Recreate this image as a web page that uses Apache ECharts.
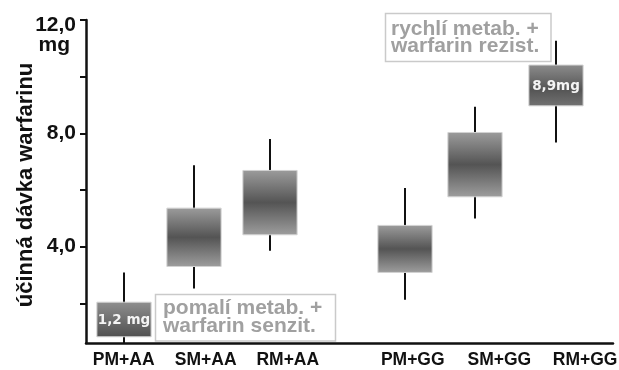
<!DOCTYPE html>
<html>
<head>
<meta charset="utf-8">
<script src="https://cdn.jsdelivr.net/npm/echarts@6/dist/echarts.min.js"></script>
<style>
html,body{margin:0;padding:0;background:#fff;}
#chart{width:619px;height:370px;}
</style>
</head>
<body>
<div id="chart"></div>
<script>
// ---- data ----
const categories = ['PM+AA', 'SM+AA', 'RM+AA', 'PM+GG', 'SM+GG', 'RM+GG'];
const whiskerLow  = [0.6, 2.52, 3.86, 2.13, 4.99, 7.68];
const boxLow      = [0.82, 3.30, 4.42, 3.09, 5.76, 8.97];
const boxHigh     = [2.04, 5.36, 6.69, 4.75, 8.03, 10.41];
const whiskerHigh = [3.09, 6.87, 7.80, 6.07, 8.94, 11.27];
const boxLabels   = ['1,2 mg', '', '', '', '', '8,9mg'];
const yTickValues  = [2, 4, 6, 8, 10, 12];
const yLabelValues = [4, 8, 12];
const yUnit = 'mg';
const yAxisName = 'účinná dávka warfarinu';
const noteSlow = 'pomalí metab. +\nwarfarin senzit.';
const noteFast = 'rychlí metab. +\nwarfarin rezist.';

// ---- layout (positions on the x value axis, 0..7) ----
const boxX   = [0.50, 1.43, 2.44, 4.24, 5.17, 6.24];
const labelX = [0.50, 1.59, 2.68, 4.34, 5.49, 6.63];
const BOX_W = 0.72;

const gradDefault = [{offset:0,color:'#9c9c9c'},{offset:0.5,color:'#545454'},{offset:1,color:'#9e9e9e'}];
const gradFirst   = [{offset:0,color:'#8f8f8f'},{offset:1,color:'#505050'}];
const gradLast    = [{offset:0,color:'#8c8c8c'},{offset:0.6,color:'#555555'},{offset:1,color:'#727272'}];
const grads = [gradFirst, gradDefault, gradDefault, gradDefault, gradDefault, gradLast];

const FONT = '"Liberation Sans", Arial, sans-serif';

function renderItem(params, api) {
  const i = params.dataIndex;
  const x = api.value(0);
  const pLow = api.coord([x, api.value(1)]);
  const pQ1 = api.coord([x, api.value(2)]);
  const pQ3 = api.coord([x, api.value(3)]);
  const pHigh = api.coord([x, api.value(4)]);
  const w = api.size([BOX_W, 0])[0];
  const cx = Math.round(pQ3[0]);
  const children = [
    {type:'line', shape:{x1:cx, y1:pHigh[1], x2:cx, y2:pLow[1]},
     style:{stroke:'#111', lineWidth:2}},
    {type:'rect', shape:{x:cx - w/2, y:pQ3[1], width:w, height:pQ1[1]-pQ3[1]},
     style:{fill:new echarts.graphic.LinearGradient(0,0,0,1,grads[i]), stroke:'#d2d2d2', lineWidth:1}}
  ];
  if (boxLabels[i]) {
    children.push({type:'text', x:cx, y:(pQ1[1]+pQ3[1])/2 + 1,
      style:{text:boxLabels[i], fill:'#f4f4f4', font:'bold 13.5px "DejaVu Sans"', align:'center', verticalAlign:'middle'}});
  }
  return {type:'group', children};
}

const chart = echarts.init(document.getElementById('chart'), null, {renderer:'canvas'});
chart.setOption({
  animation:false,
  backgroundColor:'#fff',
  grid:{left:86, right:6, top:20, bottom:27, containLabel:false, outerBoundsMode:'none'},
  xAxis:{
    type:'value', min:0, max:7,
    splitLine:{show:false},
    axisLine:{onZero:false, lineStyle:{color:'#111', width:2.5}},
    axisTick:{show:false},
    axisLabel:{
      customValues:labelX, margin:8,
      color:'#111', fontFamily:FONT, fontWeight:'bold', fontSize:17.5,
      formatter:function(v){
        let best=0, d=1e9;
        labelX.forEach((lx,k)=>{ if(Math.abs(lx-v)<d){d=Math.abs(lx-v);best=k;} });
        return categories[best];
      }
    }
  },
  yAxis:{
    type:'value', min:0.6, max:12,
    name:yAxisName, nameLocation:'middle', nameGap:49, nameMoveOverlap:false,
    nameTextStyle:{color:'#111', fontFamily:FONT, fontWeight:'bold', fontSize:22, padding:[0,7,0,0]},
    splitLine:{show:false},
    axisLine:{lineStyle:{color:'#111', width:2.5}},
    axisTick:{customValues:yTickValues, length:6, lineStyle:{color:'#111', width:2}},
    axisLabel:{
      customValues:yLabelValues, margin:10,
      color:'#111', fontFamily:FONT, fontWeight:'bold', fontSize:21,
      formatter:function(v){
        const t = v.toFixed(1).replace('.', ',');
        if (v === yLabelValues[yLabelValues.length-1]) return '{s| }\n{a|' + t + '}\n{m|' + yUnit + '}';
        return t;
      },
      rich:{
        s:{fontSize:4, lineHeight:30},
        a:{fontSize:21, fontWeight:'bold', fontFamily:FONT, color:'#111', lineHeight:20},
        m:{fontSize:21, fontWeight:'bold', fontFamily:FONT, color:'#111', lineHeight:20, padding:[0,6,0,0]}
      }
    }
  },
  series:[{
    type:'custom',
    renderItem:renderItem,
    clip:false,
    encode:{x:0, y:[1,2,3,4]},
    data:categories.map((c,i)=>[boxX[i], whiskerLow[i], boxLow[i], boxHigh[i], whiskerHigh[i]])
  }],
  graphic:[
    {type:'rect', z:100, shape:{x:155.5, y:294.5, width:180, height:46.5},
     style:{fill:'#fff', stroke:'#cacaca', lineWidth:1.5}},
    {type:'text', z:101, x:163, y:317, style:{text:noteSlow, fill:'#a0a0a0', font:'bold 21px "Liberation Sans"', lineHeight:17.5, align:'left', verticalAlign:'middle'}},
    {type:'rect', z:100, shape:{x:385.5, y:13.5, width:165.5, height:48},
     style:{fill:'#fff', stroke:'#cacaca', lineWidth:1.5}},
    {type:'text', z:101, x:391, y:37.5, style:{text:noteFast, fill:'#a0a0a0', font:'bold 21px "Liberation Sans"', lineHeight:17, align:'left', verticalAlign:'middle'}}
  ]
});
</script>
</body>
</html>
